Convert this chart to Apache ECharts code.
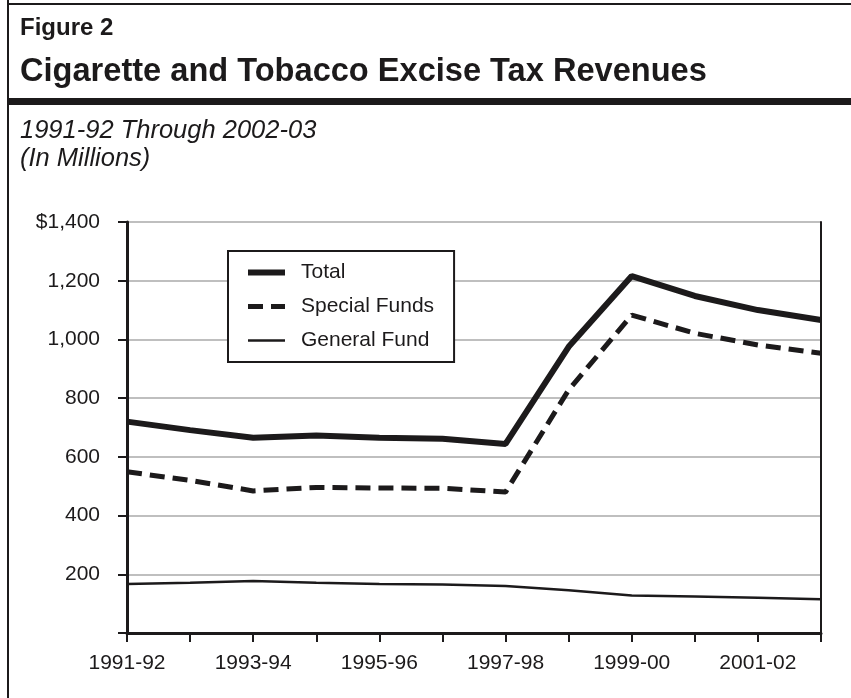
<!DOCTYPE html>
<html>
<head>
<meta charset="utf-8">
<script src="https://cdn.jsdelivr.net/npm/echarts@6/dist/echarts.min.js"></script>
<style>
html,body{margin:0;padding:0;background:#fff;}
#chart{width:851px;height:698px;}
</style>
</head>
<body>
<div id="chart"></div>
<script>
const categories = ['1991-92','1992-93','1993-94','1994-95','1995-96','1996-97','1997-98','1998-99','1999-00','2000-01','2001-02','2002-03'];
const totalValues = [720, 691, 665, 673, 665, 662, 644, 975, 1216, 1148, 1100, 1066];
const specialFunds = [549, 520, 484, 496, 494, 493, 480, 828, 1083, 1021, 981, 953];
const generalFund = [167, 171, 177, 171, 167, 165, 160, 146, 128, 124, 120, 115];
const seriesNames = ['Total', 'Special Funds', 'General Fund'];
const yTicks = {min: 0, max: 1400, interval: 200};

const INK = '#1c1a1b';
const FONT = '"Liberation Sans", Arial, Helvetica, sans-serif';
const lineStyles = [
  {color: INK, width: 6, type: 'solid'},
  {color: INK, width: 5, type: [15, 8]},
  {color: INK, width: 2.5, type: 'solid'}
];

const chart = echarts.init(document.getElementById('chart'), null, {renderer: 'canvas'});

function fmtY(v) {
  if (v === 0) return '';
  const s = v.toLocaleString('en-US');
  return v === yTicks.max ? '$' + s : s;
}

chart.setOption({
  backgroundColor: '#fff',
  animation: false,
  textStyle: {fontFamily: FONT, color: INK},
  graphic: [
    {type: 'line', shape: {x1: 8, y1: 0, x2: 8, y2: 698}, style: {stroke: INK, lineWidth: 2}},
    {type: 'line', shape: {x1: 8, y1: 4, x2: 851, y2: 4}, style: {stroke: INK, lineWidth: 2}},
    {type: 'rect', shape: {x: 8, y: 98, width: 843, height: 7}, style: {fill: INK}},
    {type: 'text', left: 20, top: 16, style: {text: 'Figure 2', font: 'bold 24px ' + FONT, fill: INK}},
    {type: 'text', left: 20, top: 56, style: {text: 'Cigarette and Tobacco Excise Tax Revenues', font: 'bold 32.6px ' + FONT, fill: INK}},
    {type: 'text', left: 20, top: 118, style: {text: '1991-92 Through 2002-03', font: 'italic 25.5px ' + FONT, fill: INK}},
    {type: 'text', left: 20, top: 146, style: {text: '(In Millions)', font: 'italic 25.5px ' + FONT, fill: INK}}
  ],
  grid: {left: 127, right: 30, top: 222, bottom: 65, containLabel: false},
  legend: {
    data: seriesNames.map((n, i) => ({name: n, lineStyle: lineStyles[i], itemStyle: {opacity: 0}})),
    orient: 'vertical',
    left: 228,
    top: 251,
    itemWidth: 37,
    itemHeight: 14,
    itemGap: 13,
    padding: [11, 20, 11, 17],
    borderColor: INK,
    borderWidth: 2,
    backgroundColor: '#fff',
    itemStyle: {opacity: 0},
    textStyle: {fontSize: 21, color: INK, fontFamily: FONT, padding: [0, 0, 0, 11]},
    selectedMode: false
  },
  xAxis: [
    {
      type: 'category',
      data: categories,
      boundaryGap: false,
      axisLine: {show: true, lineStyle: {color: INK, width: 3}},
      axisTick: {show: true, interval: 0, length: 9, lineStyle: {color: INK, width: 2}},
      axisLabel: {interval: 1, fontSize: 21, color: INK, margin: 20, fontFamily: FONT},
      splitLine: {show: false}
    },
    {
      type: 'category',
      data: categories,
      boundaryGap: false,
      position: 'top',
      z: 5,
      axisLine: {show: true, lineStyle: {color: INK, width: 2}},
      axisTick: {show: false},
      axisLabel: {show: false},
      splitLine: {show: false}
    }
  ],
  yAxis: [
    {
      type: 'value',
      min: yTicks.min,
      max: yTicks.max,
      interval: yTicks.interval,
      axisLine: {show: true, lineStyle: {color: INK, width: 3}},
      axisTick: {show: true, length: 9, lineStyle: {color: INK, width: 2}},
      axisLabel: {formatter: fmtY, fontSize: 21, color: INK, margin: 27, fontFamily: FONT},
      splitLine: {show: true, lineStyle: {color: '#bfbfbf', width: 2}}
    },
    {
      type: 'value',
      min: yTicks.min,
      max: yTicks.max,
      interval: yTicks.interval,
      position: 'right',
      z: 5,
      axisLine: {show: true, lineStyle: {color: INK, width: 2}},
      axisTick: {show: false},
      axisLabel: {show: false},
      splitLine: {show: false}
    }
  ],
  series: [
    {name: seriesNames[0], type: 'line', data: totalValues, symbol: 'none', z: 3, lineStyle: lineStyles[0], itemStyle: {color: INK}},
    {name: seriesNames[1], type: 'line', data: specialFunds, symbol: 'none', z: 3, lineStyle: lineStyles[1], itemStyle: {color: INK}},
    {name: seriesNames[2], type: 'line', data: generalFund, symbol: 'none', z: 3, lineStyle: lineStyles[2], itemStyle: {color: INK}}
  ]
});
</script>
</body>
</html>
